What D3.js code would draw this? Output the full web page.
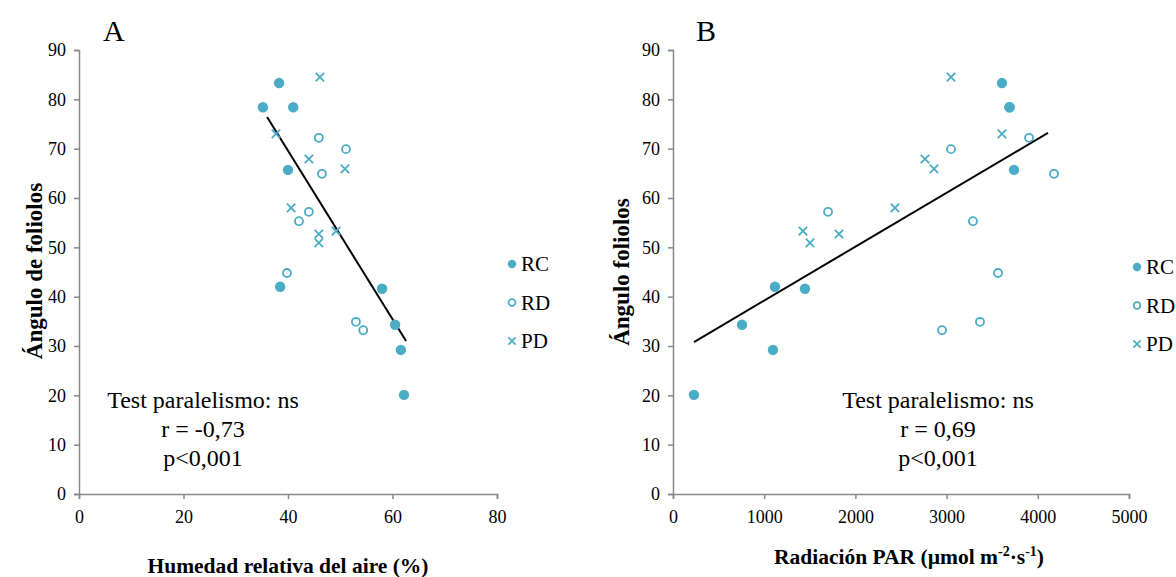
<!DOCTYPE html>
<html>
<head>
<meta charset="utf-8">
<script src="https://cdn.jsdelivr.net/npm/d3@7"></script>
<style>
  html, body { margin: 0; padding: 0; background: #fff; }
  svg { display: block; }
</style>
</head>
<body>
<svg id="chart" width="1176" height="577"></svg>
<script>
// Leaflet angle (degrees) for each treatment
const rcAngle = [78.4, 83.3, 78.4, 65.7, 42.0, 41.6, 34.3, 29.2, 20.1];
const rdAngle = [72.2, 69.9, 64.9, 57.2, 55.3, 44.8, 34.9, 33.2];
const pdAngle = [84.5, 73.0, 67.9, 65.9, 58.0, 53.3, 52.7, 50.9];

// Relative air humidity (%) for the same observations
const rcHumidity = [35.2, 38.3, 41.0, 40.0, 38.5, 58.0, 60.5, 61.6, 62.2];
const rdHumidity = [45.9, 51.1, 46.5, 44.0, 42.1, 39.8, 53.0, 54.4];
const pdHumidity = [46.1, 37.7, 44.0, 50.9, 40.6, 49.2, 45.9, 45.9];

// PAR radiation (µmol m-2 s-1) for the same observations
const rcPar = [3690, 3607, 3690, 3739, 1118, 1447, 757, 1096, 230];
const rdPar = [3904, 3048, 4178, 1700, 3289, 3564, 3366, 2950];
const pdPar = [3048, 3607, 2763, 2862, 2434, 1425, 1820, 1502];

// Fitted regression lines: [x, y] end points
const trendHumidity = [[36.0, 76.4], [62.6, 31.0]];
const trendPar = [[230, 30.8], [4112, 73.2]];

// Tick values
const yTicks = [0, 10, 20, 30, 40, 50, 60, 70, 80, 90];
const humidityTicks = [0, 20, 40, 60, 80];
const parTicks = [0, 1000, 2000, 3000, 4000, 5000];

const seriesNames = ["RC", "RD", "PD"];
const statsHumidity = ["Test paralelismo: ns", "r = -0,73", "p<0,001"];
const statsPar = ["Test paralelismo: ns", "r = 0,69", "p<0,001"];

const markerColor = "#4BACC6";
const axisColor = "#878787";
const FONT = "'Liberation Serif', 'Times New Roman', Times, serif";

const svg = d3.select("#chart").attr("font-family", FONT);

function txt(sel, size, bold) {
  return sel.attr("font-family", FONT).style("font-family", FONT)
    .attr("font-size", size).style("font-size", size + "px")
    .style("font-weight", bold ? "bold" : "normal").attr("fill", "#000");
}

function drawMarker(g, type, x, y, big) {
  if (type === "RC") {
    g.append("circle").attr("cx", x).attr("cy", y).attr("r", big ? 5.2 : 4.2)
      .attr("fill", markerColor);
  } else if (type === "RD") {
    g.append("circle").attr("cx", x).attr("cy", y).attr("r", big ? 4 : 3.4)
      .attr("fill", "none").attr("stroke", markerColor).attr("stroke-width", 1.8);
  } else {
    const s = big ? 4.2 : 3.6;
    g.append("path")
      .attr("d", `M${x - s},${y - s}L${x + s},${y + s}M${x - s},${y + s}L${x + s},${y - s}`)
      .attr("stroke", markerColor).attr("stroke-width", 1.8).attr("fill", "none");
  }
}

function panel(opts) {
  const g = svg.append("g");
  const x = d3.scaleLinear().domain(opts.xDomain).range(opts.xRange);
  const y = d3.scaleLinear().domain([0, 90]).range([494, 50]);

  // axes
  const yAxis = g.append("g").attr("transform", `translate(${opts.xRange[0]},0)`)
    .call(d3.axisLeft(y).tickValues(yTicks).tickFormat(d3.format("d")).tickSize(5).tickPadding(8));
  const xAxis = g.append("g").attr("transform", "translate(0,494)")
    .call(d3.axisBottom(x).tickValues(opts.xTicks).tickFormat(d3.format("d")).tickSize(5).tickPadding(11));
  [yAxis, xAxis].forEach(a => {
    a.attr("font-family", FONT).attr("font-size", 18);
    a.selectAll("path, line").attr("stroke", axisColor).attr("stroke-width", 1.5);
    txt(a.selectAll("text"), 18, false);
  });

  // regression line
  g.append("line")
    .attr("x1", x(opts.trend[0][0])).attr("y1", y(opts.trend[0][1]))
    .attr("x2", x(opts.trend[1][0])).attr("y2", y(opts.trend[1][1]))
    .attr("stroke", "#000").attr("stroke-width", 2);

  // points
  const series = [
    ["RC", opts.rcX, rcAngle],
    ["RD", opts.rdX, rdAngle],
    ["PD", opts.pdX, pdAngle]
  ];
  series.forEach(([name, xs, ys]) => {
    xs.forEach((v, i) => drawMarker(g, name, x(v), y(ys[i]), true));
  });

  // legend
  seriesNames.forEach((name, i) => {
    const ly = opts.legendY + i * 38.5;
    drawMarker(g, name, opts.legendX, ly, false);
    txt(g.append("text").attr("x", opts.legendX + 9).attr("y", ly + 7), 21, false).text(name);
  });

  // statistics
  opts.stats.forEach((t, i) => {
    txt(g.append("text").attr("x", opts.statsX).attr("y", opts.statsY + i * 29)
      .attr("text-anchor", "middle"), 24, false).text(t);
  });

  // panel letter
  txt(g.append("text").attr("x", opts.letterX).attr("y", 41), 30, false).text(opts.letter);

  // axis titles
  txt(g.append("text")
    .attr("transform", `translate(${opts.yTitleX},${opts.yTitleY}) rotate(-90)`)
    .attr("text-anchor", "middle"), 23, true)
    .text(opts.yTitle);

  const xt = txt(g.append("text").attr("x", opts.xTitleX).attr("y", opts.xTitleY)
    .attr("text-anchor", "middle"), 21.5, true);
  opts.xTitle.forEach(part => {
    const ts = xt.append("tspan").text(part.t);
    if (part.sup) ts.attr("dy", -8).style("font-size", "14px");
    else if (part.after) ts.attr("dy", 8);
  });
}

panel({
  xDomain: [0, 80], xRange: [79, 497], xTicks: humidityTicks,
  rcX: rcHumidity, rdX: rdHumidity, pdX: pdHumidity,
  trend: trendHumidity,
  legendX: 512, legendY: 264,
  stats: statsHumidity, statsX: 203, statsY: 408,
  letter: "A", letterX: 103,
  yTitle: "Ángulo de foliolos", yTitleX: 42, yTitleY: 271,
  xTitle: [{ t: "Humedad relativa del aire (%)" }], xTitleX: 288, xTitleY: 573
});

panel({
  xDomain: [0, 5000], xRange: [673, 1129], xTicks: parTicks,
  rcX: rcPar, rdX: rdPar, pdX: pdPar,
  trend: trendPar,
  legendX: 1137, legendY: 267,
  stats: statsPar, statsX: 938, statsY: 408,
  letter: "B", letterX: 696,
  yTitle: "Ángulo foliolos", yTitleX: 629, yTitleY: 272,
  xTitle: [
    { t: "Radiación PAR (µmol m" }, { t: "-2", sup: true },
    { t: "·s", after: true }, { t: "-1", sup: true }, { t: ")", after: true }
  ],
  xTitleX: 909, xTitleY: 564
});
</script>
</body>
</html>
